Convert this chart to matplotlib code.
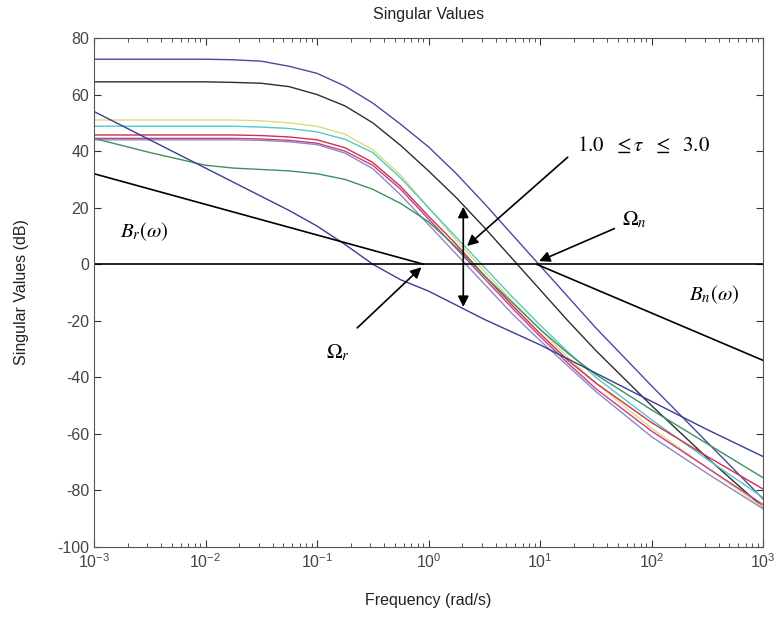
import matplotlib
matplotlib.use("Agg")
import matplotlib.pyplot as plt
import numpy as np

plt.rcParams.update({
    "font.family": ["Liberation Sans", "DejaVu Sans"],
    "font.size": 11,
    "mathtext.fontset": "stix",
    "mathtext.default": "it",
    "axes.unicode_minus": False,
    "xtick.direction": "in",
    "ytick.direction": "in",
})

logw = [-3, -2.5, -2, -1.75, -1.5, -1.25, -1, -0.75, -0.5, -0.25,
        0, 0.25, 0.5, 0.75, 1, 1.25, 1.5, 2, 2.5, 3]

# singular values (dB)
sv_blue_top = [72.5, 72.5, 72.5, 72.3, 71.8, 70, 67.5, 63, 57, 49.5,
               41.5, 32, 21.5, 10.5, -0.5, -11.5, -22.5, -43, -63, -83]
sv_black = [64.5, 64.5, 64.5, 64.3, 64, 62.8, 60, 56, 50, 42,
            33, 23.5, 13, 2, -9, -20, -30.5, -50, -68.5, -86]
sv_yellow = [51, 51, 51, 51, 50.7, 50, 48.8, 46, 40.5, 31.5,
             20, 8.5, -2.5, -13, -23, -33, -42, -58, -72, -86]
sv_cyan = [48.8, 48.8, 48.8, 48.8, 48.5, 48, 46.8, 44.2, 39.5, 30.5,
           20, 9.5, -1, -11.5, -21.5, -31, -40, -55, -69, -82.5]
sv_red = [45.7, 45.7, 45.7, 45.7, 45.5, 45, 44, 41.2, 36, 27.5,
          17, 7, -4, -14.5, -24.5, -34, -42, -56, -68, -79.5]
sv_magenta = [44.5, 44.5, 44.5, 44.5, 44.3, 43.8, 42.8, 40, 35, 26.5,
              16, 5.5, -5, -15.5, -25.5, -35, -44, -59, -72, -85]
sv_purple = [44, 44, 44, 44, 43.8, 43.3, 42.3, 39.3, 33.8, 24.5,
             14, 3.5, -7, -17.5, -27, -36, -45, -61, -74, -86.5]
sv_green = [44.5, 39.5, 35, 34, 33.5, 33, 32, 30, 26.5, 21.5,
            15, 6, -4, -13.5, -23, -31.5, -39, -51.5, -63.5, -75.5]
sv_blue_int = [54, 44, 34, 29, 24, 19, 13.5, 7, 0, -5.5,
               -9.5, -14.5, -19.5, -24, -28.5, -33.5, -38.5, -48.5, -58.5, -68]

curves = [
    (sv_blue_top, "#4a4aa0"),
    (sv_black, "#2e2e2e"),
    (sv_yellow, "#dcdc78"),
    (sv_cyan, "#55c8c8"),
    (sv_red, "#d03050"),
    (sv_magenta, "#c0408c"),
    (sv_purple, "#9088c0"),
    (sv_green, "#3f9060"),
    (sv_blue_int, "#3c3c96"),
]

# bound lines
br_w = [1e-3, 0.9]
br_db = [32, 0]
bn_w = [9.3, 1e3]
bn_db = [0, -34]
omega_r = 0.9
omega_n = 9.3

fig = plt.figure(figsize=(7.79, 6.21), dpi=100)
ax = fig.add_axes([0.1207, 0.1192, 0.8588, 0.8196])

w = 10.0 ** np.array(logw)
for vals, col in curves:
    ax.semilogx(w, vals, color=col, linewidth=1.0)

ax.semilogx([1e-3, 1e3], [0, 0], color="black", linewidth=1.2)
ax.semilogx(br_w, br_db, color="black", linewidth=1.2)
ax.semilogx(bn_w, bn_db, color="black", linewidth=1.2)

ax.set_xlim(1e-3, 1e3)
ax.set_ylim(-100, 80)
ax.set_yticks(np.arange(-100, 81, 20))
ax.tick_params(which="both", top=True, right=True, colors="#333333",
               labelcolor="#444444", labelsize=11.5)
ax.tick_params(which="major", length=5)
ax.tick_params(which="minor", length=3)
for s in ax.spines.values():
    s.set_color("#555555")

ax.set_title("Singular Values", fontsize=11.5, color="#222222", pad=14)
ax.set_xlabel("Frequency (rad/s)", fontsize=11.5, color="#222222", labelpad=16)
ax.set_ylabel("Singular Values (dB)", fontsize=11.5, color="#222222", labelpad=20)

arrow = dict(arrowstyle="-|>", color="black", lw=1.2, mutation_scale=16)
mfs = 15

ax.annotate("", xy=(2.12, 5.8), xytext=(18.5, 38.5), arrowprops=arrow)
ax.text(21.5, 42.2, r"$\mathrm{1.0}\ \ \leq \tau\ \ \leq\ \ \mathrm{3.0}$",
        fontsize=mfs, va="center", ha="left")

ax.annotate("", xy=(2.05, 21.3), xytext=(2.05, -16.1),
            arrowprops=dict(arrowstyle="<|-|>", color="black", lw=1.2,
                            mutation_scale=16))

ax.annotate("", xy=(omega_n, 0.7), xytext=(49, 13), arrowprops=arrow)
ax.text(70.8, 15.7, r"$\Omega_n$", fontsize=mfs, ha="center", va="center")

ax.annotate("", xy=(omega_r, -0.4), xytext=(0.22, -23.2), arrowprops=arrow)
ax.text(0.155, -31.3, r"$\Omega_r$", fontsize=mfs, ha="center", va="center")

ax.text(0.0028, 11.4, r"$B_r(\omega)$", fontsize=mfs, ha="center", va="center")
ax.text(363, -10.8, r"$B_n(\omega)$", fontsize=mfs, ha="center", va="center")

fig.savefig("out.png", dpi=100, facecolor="white")
